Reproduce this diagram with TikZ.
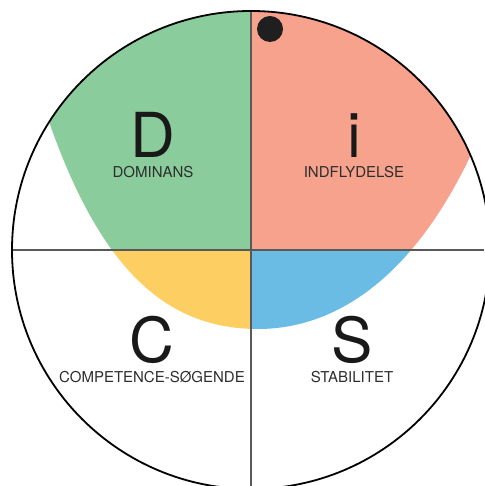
\documentclass[tikz,border=0pt]{standalone}
\usepackage{fontspec}
\setmainfont{TeX Gyre Heros}
\usetikzlibrary{positioning}
\definecolor{discD}{HTML}{8ACC9B}
\definecolor{discI}{HTML}{F6A28D}
\definecolor{discC}{HTML}{FDCF63}
\definecolor{discS}{HTML}{6BBCE4}

\begin{document}
\begin{tikzpicture}[x=1pt ,y=1pt ,
axis/.style ={draw=black!65 ,line width=1.3pt},
rim/.style ={draw=black ,line width=1.8pt},
letter/.style ={anchor=base ,inner sep=0pt ,text depth=0pt ,text=black!90 ,font=\fontsize{62}{62}\selectfont},
trait/.style ={anchor=base ,inner sep=0pt ,text=black!82 ,font=\fontsize{15}{15}\selectfont}]
\useasboundingbox (0,0) rectangle (484,486);
\coordinate (O) at (251,236);
\coordinate (W) at (12,236);
\coordinate (E) at (484,236);
\coordinate (N) at (251,475);
\coordinate (B) at (251,0);
% coloured bowl
\begin{scope}
\clip (O) circle (239);
\clip (42,385) .. controls (94,225) and (160,157) .. (258,157)
  .. controls (320,157) and (410,190) .. (480,351)
  -- (500,500) -- (-10,500) -- cycle;
\fill[discD] (O) rectangle (0,486);
\fill[discI] (O) rectangle (484,486);
\fill[discC] (O) rectangle (0,0);
\fill[discS] (O) rectangle (484,0);
\end{scope}
\draw[axis] (W) -- (E);
\draw[axis] (N) -- (B);
\draw[rim] (O) circle (239);
\fill[black!88] (270,457) circle (13);
% letters
\node[letter] (D) at (153,328) {D};
\node[trait ,below=20pt of D.base ,anchor=base] (dom) {DOMINANS};
\node[letter] (I) at (354,328) {i};
\node[trait ,below=20pt of I.base ,anchor=base] (ind) {INDFLYDELSE};
\node[letter] (C) at (152,123) {C};
\node[trait ,below=20pt of C.base ,anchor=base] (com) {COMPETENCE-SØGENDE};
\node[letter] (S) at (352,123) {S};
\node[trait ,below=20pt of S.base ,anchor=base] (sta) {STABILITET};
\end{tikzpicture}
\end{document}
